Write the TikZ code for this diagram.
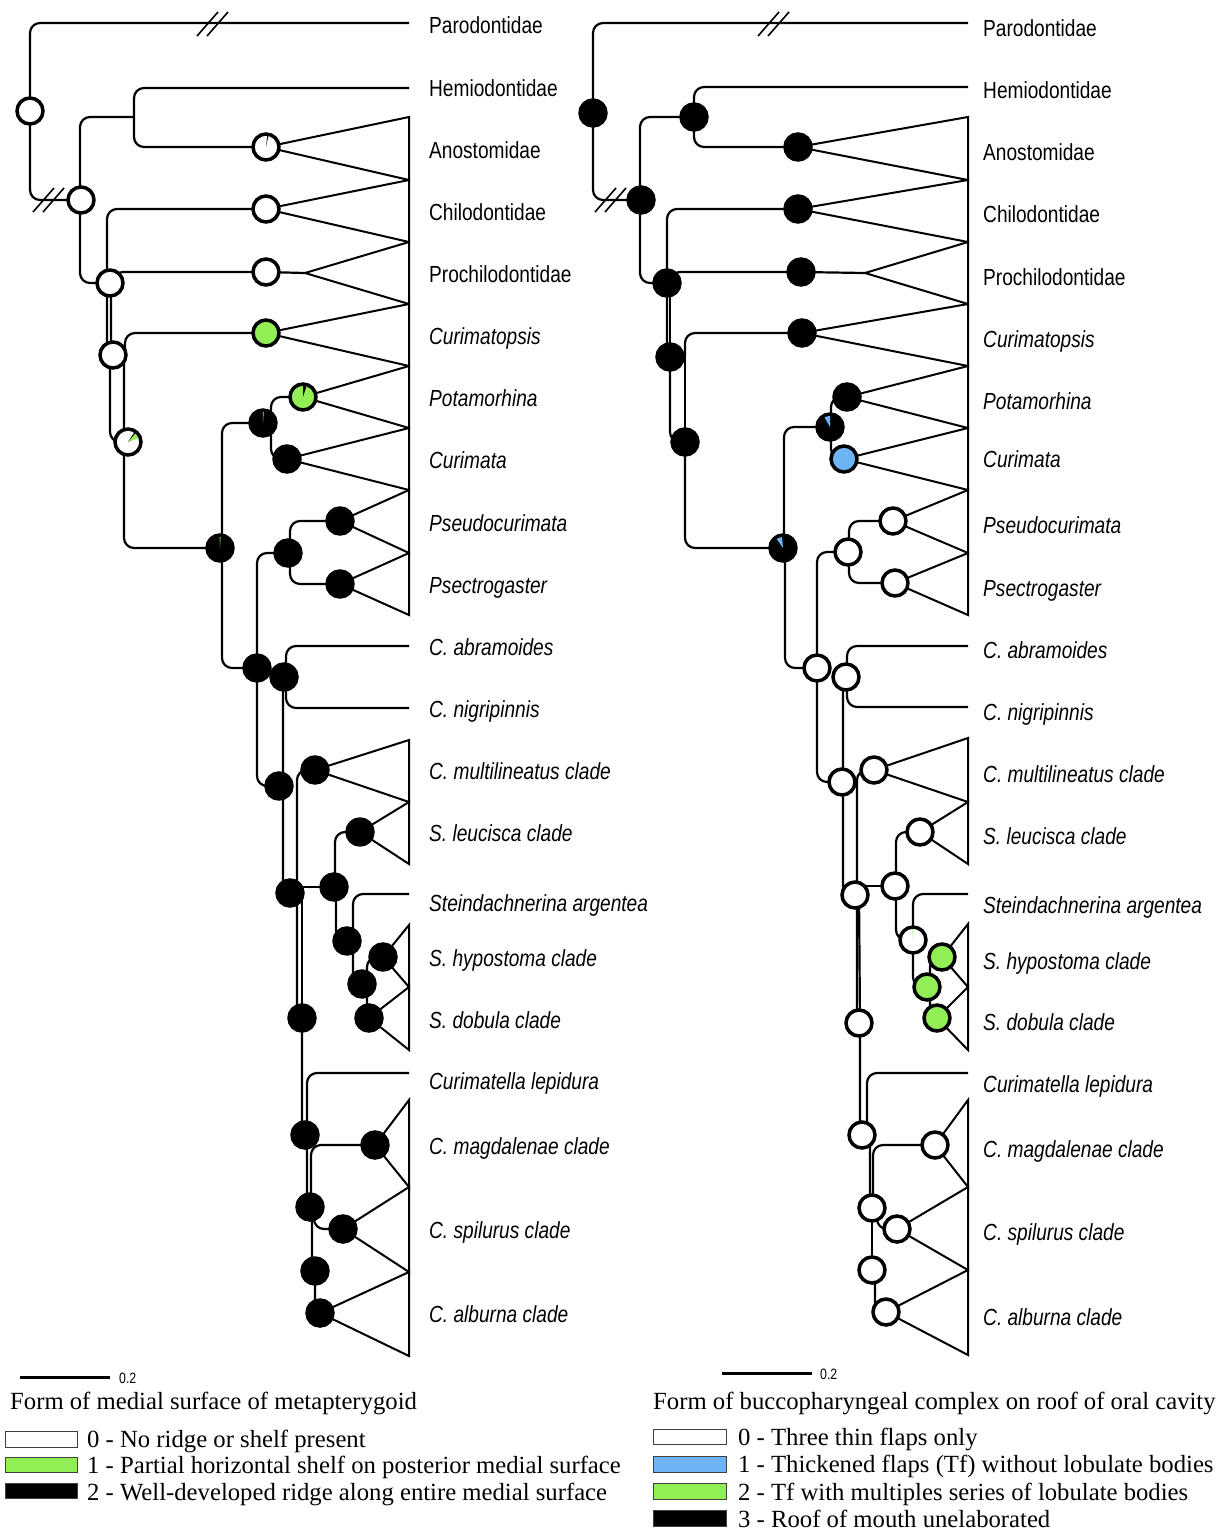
\documentclass[tikz,border=0pt]{standalone}
\usepackage{fontspec}
\setmainfont{Liberation Serif}
\newfontfamily\labfont[FakeStretch=0.82]{Liberation Sans}
\usetikzlibrary{calc}
\definecolor{lgreen}{RGB}{145,238,85}
\definecolor{lblue}{RGB}{110,180,245}
\pgfdeclarelayer{background}
\pgfsetlayers{background,main}
% coloured sector inside a pie node: colour, node, start angle, end angle
\newcommand\pieslice[4]{\fill[#1] (#2.center) -- ++(#3:11pt) arc[start angle=#3,end angle=#4,radius=11pt] -- cycle;}
% double slash marking a shortened branch
\newcommand\brkmark[2]{\draw[brk] ({#1-15},{#2+12}) -- ({#1+6},{#2-12}) ({#1-5},{#2+12}) -- ({#1+16},{#2-12});}
\tikzset{
  branch/.style={line width=2.2pt, rounded corners=10pt},
  tri/.style={line width=2pt, line join=miter},
  brk/.style={line width=1.6pt},
  pw/.style={circle, draw=black, line width=3.5pt, minimum size=26pt, inner sep=0pt, fill=white},
  pb/.style={pw, fill=black},
  pg/.style={pw, fill=lgreen},
  pbl/.style={pw, fill=lblue},
  lbl/.style={anchor=base west, inner sep=0pt, font=\labfont\fontsize{23.3}{28}\selectfont},
  ilbl/.style={lbl, font=\labfont\itshape\fontsize{23.3}{28}\selectfont},
  legtxt/.style={anchor=base west, inner sep=0pt, font=\fontsize{24.7}{29}\selectfont},
  legbox/.style={draw=black!75, line width=1pt},
  sbar/.style={line width=3pt},
  sbtxt/.style={anchor=base west, inner sep=0pt, font=\labfont\fontsize{15}{18}\selectfont},
}
\begin{document}
\begin{tikzpicture}[x=1pt,y=-1pt]
\useasboundingbox (0,0) rectangle (1218,1532);

% ===================== left tree: metapterygoid =====================
\coordinate (LtPar) at (409,23);
\coordinate (LtHem) at (409,88);
\coordinate (LtAbr) at (409,646);
\coordinate (LtNig) at (409,708);
\coordinate (LtArg) at (409,894);
\coordinate (LtLep) at (409,1073);
\coordinate (LHA) at (134,117);
\coordinate (LProApex) at (305,273);

\node[pw] (LRoot) at (30,111) {};
\node[pw] (LA) at (81,200) {};
\node[pw] (LAno) at (266,147) {};
\node[pw] (LChi) at (266,209) {};
\node[pw] (LPro) at (266,272) {};
\node[pw] (LB) at (110,283) {};
\node[pg] (LCur) at (266,333) {};
\node[pw] (LC) at (113,355) {};
\node[pw] (LD) at (128,442) {};
\node[pb] (LE) at (220,548) {};
\node[pb] (LF) at (263,423) {};
\node[pg] (LPot) at (303,397) {};
\node[pb] (LCuri) at (287,459) {};
\node[pb] (LI) at (288,553) {};
\node[pb] (LPse) at (340,521) {};
\node[pb] (LPsc) at (340,584) {};
\node[pb] (LL) at (257,668) {};
\node[pb] (LM) at (284,677) {};
\node[pb] (LN) at (279,786) {};
\node[pb] (LP) at (315,770) {};
\node[pb] (LQ) at (360,832) {};
\node[pb] (LO) at (290,893) {};
\node[pb] (LR) at (334,887) {};
\node[pb] (LS) at (347,941) {};
\node[pb] (LT) at (362,984) {};
\node[pb] (LU) at (383,957) {};
\node[pb] (LV) at (369,1018) {};
\node[pb] (LW) at (302,1018) {};
\node[pb] (LX) at (305,1135) {};
\node[pb] (LY) at (375,1145) {};
\node[pb] (LZ) at (310,1207) {};
\node[pb] (LAA) at (343,1229) {};
\node[pb] (LAB) at (315,1271) {};
\node[pb] (LAC) at (320,1313) {};

\pieslice{black}{LAno}{78}{84}
\pieslice{lgreen}{LD}{20}{50}
\pieslice{black}{LD}{50}{57}
\pieslice{lgreen}{LE}{87}{92}
\pieslice{lgreen}{LF}{86}{91}
\pieslice{black}{LPot}{72}{90}

% ===================== right tree: buccopharyngeal complex =====================
\coordinate (RtPar) at (968,23);
\coordinate (RtHem) at (968,87);
\coordinate (RtAbr) at (968,646);
\coordinate (RtNig) at (968,707);
\coordinate (RtArg) at (968,894);
\coordinate (RtLep) at (968,1073);
\coordinate (RProApex) at (865,273);

\node[pb] (RRoot) at (593,113) {};
\node[pb] (RA) at (641,200) {};
\node[pb] (RHA) at (694,117) {};
\node[pb] (RAno) at (798,147) {};
\node[pb] (RChi) at (798,209) {};
\node[pb] (RPro) at (801,272) {};
\node[pb] (RB) at (667,283) {};
\node[pb] (RCur) at (802,333) {};
\node[pb] (RC) at (670,357) {};
\node[pb] (RD) at (685,442) {};
\node[pb] (RE) at (783,548) {};
\node[pb] (RF) at (830,427) {};
\node[pb] (RPot) at (847,397) {};
\node[pbl] (RCuri) at (844,459) {};
\node[pw] (RI) at (848,552) {};
\node[pw] (RPse) at (893,521) {};
\node[pw] (RPsc) at (895,583) {};
\node[pw] (RL) at (817,668) {};
\node[pw] (RM) at (846,677) {};
\node[pw] (RN) at (842,782) {};
\node[pw] (RP) at (874,770) {};
\node[pw] (RQ) at (920,832) {};
\node[pw] (RO) at (855,895) {};
\node[pw] (RR) at (895,886) {};
\node[pw] (RS) at (913,940) {};
\node[pg] (RT) at (927,987) {};
\node[pg] (RU) at (942,957) {};
\node[pg] (RV) at (937,1018) {};
\node[pw] (RW) at (859,1023) {};
\node[pw] (RX) at (862,1135) {};
\node[pw] (RY) at (935,1145) {};
\node[pw] (RZ) at (872,1208) {};
\node[pw] (RAA) at (897,1229) {};
\node[pw] (RAB) at (872,1270) {};
\node[pw] (RAC) at (886,1312) {};

\pieslice{lblue}{RE}{95}{125}
\pieslice{lblue}{RF}{90}{120}
\pieslice{lgreen}{RS}{88}{93}

\begin{pgfonlayer}{background}
\fill[white] (0,0) rectangle (1218,1532);

% ---- left branches
\draw[branch] (LtPar) -| (LRoot.center);
\draw[branch] (LRoot.center) |- (LA.center);
\draw[branch] (LA.center) ++(-1,0) |- (LHA);
\draw[branch] (LtHem) -| (LHA) |- (LAno.center);
\draw[branch] (LA.center) ++(-1,0) |- (LB.center);
\draw[branch] (LB.center) ++(-3,0) |- (LChi.center);
\draw[branch] (LB.center) ++(3,0) |- (LPro.center);
\draw[branch] (LPro.center) -- (LProApex);
\draw[branch] (LB.center) ++(-3,0) |- (LC.center);
\draw[branch] (LB.center) ++(1,0) |- (LC.center);
\draw[branch] (LC.center) ++(12,0) |- (LCur.center);
\draw[branch] (LC.center) ++(-3,0) |- (LD.center);
\draw[branch] (LC.center) ++(11,0) |- (LD.center);
\draw[branch] (LD.center) ++(-4,0) |- (LE.center);
\draw[branch] (LE.center) ++(2,0) |- (LF.center);
\draw[branch] (LF.center) ++(8,0) |- (LPot.center);
\draw[branch] (LF.center) ++(8,0) |- (LCuri.center);
\draw[branch] (LE.center) ++(2,0) |- (LL.center);
\draw[branch] (LI.center) ++(2,0) |- (LPse.center);
\draw[branch] (LI.center) ++(2,0) |- (LPsc.center);
\draw[branch] (LI.center) -| (LL.center);
\draw[branch] (LL.center) |- (LN.center);
\draw[branch] (LM.center) ++(2,0) |- (LtAbr);
\draw[branch] (LM.center) ++(2,0) |- (LtNig);
\draw[branch] (LM.center) ++(-1,0) |- (LO.center);
\draw[branch] (LO.center) ++(7,0) |- (LP.center);
\draw[branch] (LR.center) ++(1,0) |- (LQ.center);
\draw[branch] (LR.center) -- +(-40,0);
\draw[branch] (LR.center) ++(2,0) |- (LS.center);
\draw[branch] (LS.center) ++(6,0) |- (LtArg);
\draw[branch] (LS.center) ++(6,0) |- (LT.center);
\draw[branch] (LT.center) ++(5,0) |- (LU.center);
\draw[branch] (LT.center) ++(5,0) |- (LV.center);
\draw[branch] (LO.center) ++(7,0) |- (LW.center);
\draw[branch] (LW.center) -- (LW.center |- LO.center);
\draw[branch] (LW.center) |- (LX.center);
\draw[branch] (LX.center) ++(2,0) |- (LtLep);
\draw[branch] (LX.center) ++(2,0) |- (LZ.center);
\draw[branch] (LZ.center) ++(1,0) |- (LY.center);
\draw[branch] (LZ.center) ++(4,0) |- (LAA.center);
\draw[branch] (LZ.center) ++(2,0) |- (LAB.center);
\draw[branch] (LAB.center) |- (LAC.center);

% ---- left collapsed clades
\draw[tri] (LAno.center) -- (409,117) -- (409,180) -- cycle;
\draw[tri] (LChi.center) -- (409,180) -- (409,242) -- cycle;
\draw[tri] (LProApex) -- (409,242) -- (409,304) -- cycle;
\draw[tri] (LCur.center) -- (409,304) -- (409,366) -- cycle;
\draw[tri] (LPot.center) -- (409,366) -- (409,428) -- cycle;
\draw[tri] (LCuri.center) -- (409,428) -- (409,490) -- cycle;
\draw[tri] (LPse.center) -- (409,490) -- (409,553) -- cycle;
\draw[tri] (LPsc.center) -- (409,553) -- (409,615) -- cycle;
\draw[tri] (LP.center) -- (409,740) -- (409,802) -- cycle;
\draw[tri] (LQ.center) -- (409,802) -- (409,864) -- cycle;
\draw[tri] (LU.center) -- (409,925) -- (409,987) -- cycle;
\draw[tri] (LV.center) -- (409,987) -- (409,1050) -- cycle;
\draw[tri] (LY.center) -- (409,1100) -- (409,1187) -- cycle;
\draw[tri] (LAA.center) -- (409,1187) -- (409,1272) -- cycle;
\draw[tri] (LAC.center) -- (409,1272) -- (409,1356) -- cycle;

% ---- right branches
\draw[branch] (RtPar) -| (RRoot.center);
\draw[branch] (RRoot.center) |- (RA.center);
\draw[branch] (RA.center) ++(-1,0) |- (RHA.center);
\draw[branch] (RtHem) -| (RHA.center);
\draw[branch] (RHA.center) |- (RAno.center);
\draw[branch] (RA.center) ++(-1,0) |- (RB.center);
\draw[branch] (RB.center) |- (RChi.center);
\draw[branch] (RB.center) ++(3,0) |- (RPro.center);
\draw[branch] (RPro.center) -- (RProApex);
\draw[branch] (RB.center) |- (RC.center);
\draw[branch] (RB.center) ++(3,0) |- (RC.center);
\draw[branch] (RC.center) ++(15,0) |- (RCur.center);
\draw[branch] (RC.center) |- (RD.center);
\draw[branch] (RC.center) ++(15,0) |- (RD.center);
\draw[branch] (RD.center) |- (RE.center);
\draw[branch] (RE.center) ++(1,0) |- (RF.center);
\draw[branch] (RF.center) ++(1,0) |- (RPot.center);
\draw[branch] (RF.center) ++(1,0) |- (RCuri.center);
\draw[branch] (RE.center) ++(2,0) |- (RL.center);
\draw[branch] (RI.center) ++(1,0) |- (RPse.center);
\draw[branch] (RI.center) ++(1,0) |- (RPsc.center);
\draw[branch] (RI.center) -| (RL.center);
\draw[branch] (RL.center) |- (RN.center);
\draw[branch] (RM.center) ++(1,0) |- (RtAbr);
\draw[branch] (RM.center) ++(1,0) |- (RtNig);
\draw[branch] (RM.center) ++(-3,0) |- (RO.center);
\draw[branch] (RO.center) ++(2,0) |- (RP.center);
\draw[branch] (RR.center) ++(1,0) |- (RQ.center);
\draw[branch] (RR.center) -- +(-40,0);
\draw[branch] (RR.center) ++(1,0) |- (RS.center);
\draw[branch] (RS.center) |- (RtArg);
\draw[branch] (RS.center) |- (RT.center);
\draw[branch] (RT.center) ++(3,0) |- (RU.center);
\draw[branch] (RT.center) ++(3,0) |- (RV.center);
\draw[branch] (RO.center) ++(2,0) |- (RW.center);
\draw[branch] (RW.center) ++(1,0) -- (RW.center |- RO.center);
\draw[branch] (RW.center) ++(1,0) |- (RX.center);
\draw[branch] (RX.center) ++(5,0) |- (RtLep);
\draw[branch] (RX.center) ++(8,0) |- (RZ.center);
\draw[branch] (RZ.center) ++(1,0) |- (RY.center);
\draw[branch] (RZ.center) ++(5,0) |- (RAA.center);
\draw[branch] (RZ.center) |- (RAB.center);
\draw[branch] (RAB.center) ++(3,0) |- (RAC.center);

% ---- right collapsed clades
\draw[tri] (RAno.center) -- (968,117) -- (968,180) -- cycle;
\draw[tri] (RChi.center) -- (968,180) -- (968,242) -- cycle;
\draw[tri] (RProApex) -- (968,242) -- (968,304) -- cycle;
\draw[tri] (RCur.center) -- (968,304) -- (968,366) -- cycle;
\draw[tri] (RPot.center) -- (968,366) -- (968,428) -- cycle;
\draw[tri] (RCuri.center) -- (968,428) -- (968,490) -- cycle;
\draw[tri] (RPse.center) -- (968,490) -- (968,553) -- cycle;
\draw[tri] (RPsc.center) -- (968,553) -- (968,615) -- cycle;
\draw[tri] (RP.center) -- (968,738) -- (968,802) -- cycle;
\draw[tri] (RQ.center) -- (968,802) -- (968,864) -- cycle;
\draw[tri] (RU.center) -- (968,924) -- (968,987) -- cycle;
\draw[tri] (RV.center) -- (968,987) -- (968,1050) -- cycle;
\draw[tri] (RY.center) -- (968,1100) -- (968,1187) -- cycle;
\draw[tri] (RAA.center) -- (968,1187) -- (968,1270) -- cycle;
\draw[tri] (RAC.center) -- (968,1270) -- (968,1355) -- cycle;
\end{pgfonlayer}

% ---- shortened-branch marks
\brkmark{212}{24}
\brkmark{48}{200}
\brkmark{773}{24}
\brkmark{610}{200}

% ---- taxon labels, left
\node[lbl]  (lPar) at (429,33) {Parodontidae};
\node[lbl]  (lHem) at (429,96) {Hemiodontidae};
\node[lbl]  (lAno) at (429,158) {Anostomidae};
\node[lbl]  (lChi) at (429,220) {Chilodontidae};
\node[lbl]  (lPro) at (429,282) {Prochilodontidae};
\node[ilbl] (lCur) at (429,344) {Curimatopsis};
\node[ilbl] (lPot) at (429,406) {Potamorhina};
\node[ilbl] (lCuri) at (429,468) {Curimata};
\node[ilbl] (lPse) at (429,531) {Pseudocurimata};
\node[ilbl] (lPsc) at (429,593) {Psectrogaster};
\node[ilbl] (lAbr) at (429,655) {C. abramoides};
\node[ilbl] (lNig) at (429,717) {C. nigripinnis};
\node[ilbl] (lMul) at (429,779) {C. multilineatus clade};
\node[ilbl] (lLeu) at (429,841) {S. leucisca clade};
\node[ilbl] (lArg) at (429,911) {Steindachnerina argentea};
\node[ilbl] (lHyp) at (429,966) {S. hypostoma clade};
\node[ilbl] (lDob) at (429,1028) {S. dobula clade};
\node[ilbl] (lLep) at (429,1089) {Curimatella lepidura};
\node[ilbl] (lMag) at (429,1154) {C. magdalenae clade};
\node[ilbl] (lSpi) at (429,1238) {C. spilurus clade};
\node[ilbl] (lAlb) at (429,1322) {C. alburna clade};

% ---- taxon labels, right
\node[lbl]  (rPar) at (983,36) {Parodontidae};
\node[lbl]  (rHem) at (983,98) {Hemiodontidae};
\node[lbl]  (rAno) at (983,160) {Anostomidae};
\node[lbl]  (rChi) at (983,222) {Chilodontidae};
\node[lbl]  (rPro) at (983,285) {Prochilodontidae};
\node[ilbl] (rCur) at (983,347) {Curimatopsis};
\node[ilbl] (rPot) at (983,409) {Potamorhina};
\node[ilbl] (rCuri) at (983,467) {Curimata};
\node[ilbl] (rPse) at (983,533) {Pseudocurimata};
\node[ilbl] (rPsc) at (983,596) {Psectrogaster};
\node[ilbl] (rAbr) at (983,658) {C. abramoides};
\node[ilbl] (rNig) at (983,720) {C. nigripinnis};
\node[ilbl] (rMul) at (983,782) {C. multilineatus clade};
\node[ilbl] (rLeu) at (983,844) {S. leucisca clade};
\node[ilbl] (rArg) at (983,913) {Steindachnerina argentea};
\node[ilbl] (rHyp) at (983,969) {S. hypostoma clade};
\node[ilbl] (rDob) at (983,1030) {S. dobula clade};
\node[ilbl] (rLep) at (983,1092) {Curimatella lepidura};
\node[ilbl] (rMag) at (983,1157) {C. magdalenae clade};
\node[ilbl] (rSpi) at (983,1240) {C. spilurus clade};
\node[ilbl] (rAlb) at (983,1325) {C. alburna clade};

% ---- scale bars
\draw[sbar] (20,1377) -- (110,1377);
\node[sbtxt] (lScale) at (119,1383) {0.2};
\draw[sbar] (722,1373) -- (812,1373);
\node[sbtxt] (rScale) at (820,1379) {0.2};

% ---- legend, left
\node[legtxt] (lTitle) at (10,1409) {Form of medial surface of metapterygoid};
\draw[legbox, fill=white]  (5,1431) rectangle (77,1447);
\draw[legbox, fill=lgreen] (5,1457) rectangle (77,1472);
\draw[legbox, fill=black]  (5,1483) rectangle (77,1498);
\node[legtxt] (lK0) at (87,1447) {0 - No ridge or shelf present};
\node[legtxt] (lK1) at (87,1473) {1 - Partial horizontal shelf on posterior medial surface};
\node[legtxt] (lK2) at (87,1500) {2 - Well-developed ridge along entire medial surface};

% ---- legend, right
\node[legtxt] (rTitle) at (653,1409) {Form of buccopharyngeal complex on roof of oral cavity};
\draw[legbox, fill=white]  (653,1429) rectangle (726,1444);
\draw[legbox, fill=lblue]  (653,1456) rectangle (726,1472);
\draw[legbox, fill=lgreen] (653,1483) rectangle (726,1499);
\draw[legbox, fill=black]  (653,1510) rectangle (726,1526);
\node[legtxt] (rK0) at (738,1445) {0 - Three thin flaps only};
\node[legtxt] (rK1) at (738,1472) {1 - Thickened flaps (Tf) without lobulate bodies};
\node[legtxt] (rK2) at (738,1500) {2 - Tf with multiples series of lobulate bodies};
\node[legtxt] (rK3) at (738,1527) {3 - Roof of mouth unelaborated};
\end{tikzpicture}
\end{document}
